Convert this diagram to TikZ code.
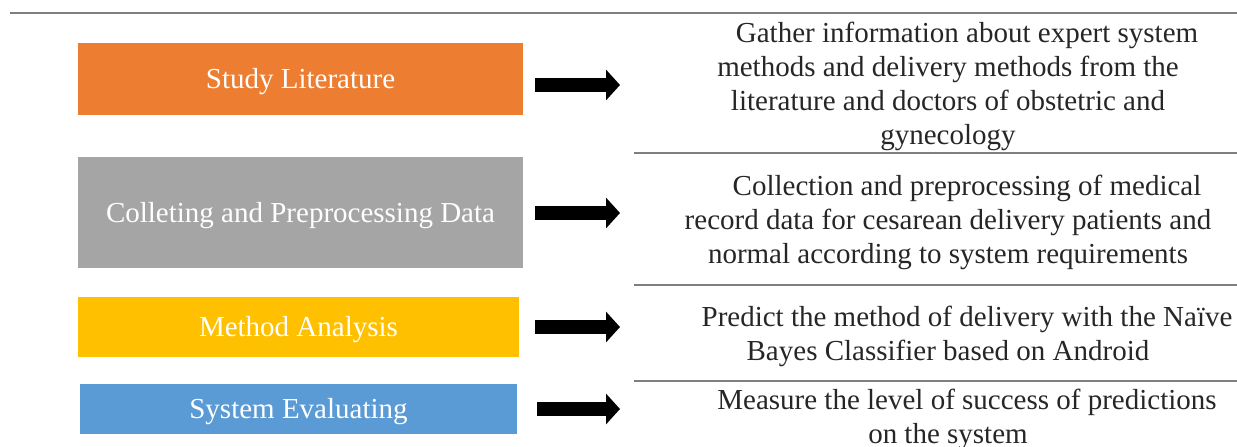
\documentclass[tikz,border=0pt]{standalone}
\usepackage{fontspec}
\setmainfont{Liberation Serif}
\usetikzlibrary{arrows.meta}
\definecolor{orangeC}{HTML}{ED7D31}
\definecolor{grayC}{HTML}{A5A5A5}
\definecolor{yellowC}{HTML}{FFC000}
\definecolor{blueC}{HTML}{5B9BD5}
\definecolor{ruleC}{HTML}{7F7F7F}
\tikzset{
  stagebox/.style={rectangle, inner sep=0pt},
  stagetext/.style={inner sep=0pt, text=white, font=\fontsize{14.5pt}{17pt}\selectfont, yshift=-1.3pt},
  desc/.style={align=center, inner sep=0pt, font=\fontsize{14.5pt}{17pt}\selectfont, text=black!85},
  rulel/.style={draw=ruleC, line width=1pt},
  bigarrow/.style={line width=7pt, -{Triangle[length=7pt,width=15pt]}}
}
\begin{document}
\begin{tikzpicture}[x=0.5pt,y=-0.5pt]
\useasboundingbox (0,0) rectangle (1237,446);
% rules
\coordinate (t0) at (10,13);   \coordinate (t1) at (1237,13);
\coordinate (r1a) at (634,153); \coordinate (r1b) at (1237,153);
\coordinate (r2a) at (634,285); \coordinate (r2b) at (1237,285);
\coordinate (r3a) at (634,381); \coordinate (r3b) at (1237,381);
\draw[rulel] (t0) -- (t1);
\draw[rulel] (r1a) -- (r1b);
\draw[rulel] (r2a) -- (r2b);
\draw[rulel] (r3a) -- (r3b);
% boxes
\node[stagebox, fill=orangeC, minimum width=222.5pt, minimum height=36pt] (b1) at (300.5,79) {};
\node[stagebox, fill=grayC, minimum width=222.5pt, minimum height=55.5pt] (b2) at (300.5,212.5) {};
\node[stagebox, fill=yellowC, minimum width=220.5pt, minimum height=30pt] (b3) at (298.5,327) {};
\node[stagebox, fill=blueC, minimum width=218.5pt, minimum height=25pt] (b4) at (298.5,409) {};
\node[stagetext] (l1) at (b1.center) {Study Literature};
\node[stagetext] (l2) at (b2.center) {Colleting and Preprocessing Data};
\node[stagetext] (l3) at (b3.center) {Method Analysis};
\node[stagetext] (l4) at (b4.center) {System Evaluating};
% descriptions
\node[desc] (d1) at (948,86.5) {\hspace*{19pt}Gather information about expert system\\methods and delivery methods from the\\literature and doctors of obstetric and\\gynecology};
\node[desc] (d2) at (948,222.5) {\hspace*{19pt}Collection and preprocessing of medical\\record data for cesarean delivery patients and\\normal according to system requirements};
\node[desc] (d3) at (948,336) {\hspace*{19pt}Predict the method of delivery with the Naïve\\Bayes Classifier based on Android};
\node[desc] (d4) at (948,419) {\hspace*{19pt}Measure the level of success of predictions\\on the system};
% arrows
\coordinate (a1s) at (535,85);  \coordinate (a1e) at (620,85);
\coordinate (a2s) at (535,213); \coordinate (a2e) at (620,213);
\coordinate (a3s) at (535,327); \coordinate (a3e) at (620,327);
\coordinate (a4s) at (537,409); \coordinate (a4e) at (620,409);
\draw[bigarrow] (a1s) -- (a1e);
\draw[bigarrow] (a2s) -- (a2e);
\draw[bigarrow] (a3s) -- (a3e);
\draw[bigarrow] (a4s) -- (a4e);
\end{tikzpicture}
\end{document}
